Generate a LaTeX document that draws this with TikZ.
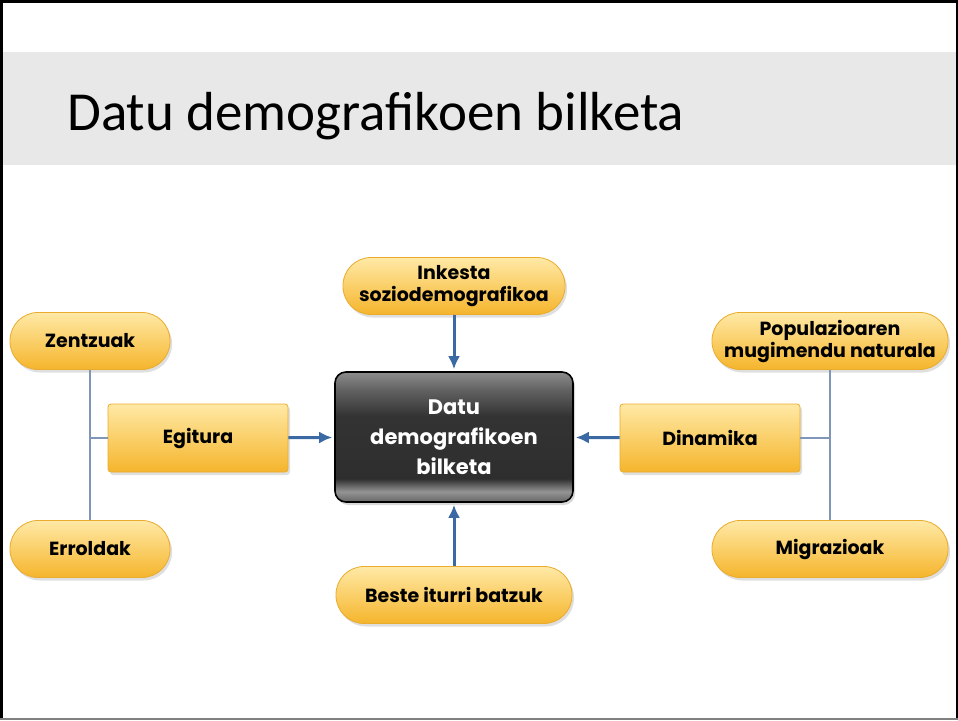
\documentclass[tikz,border=0pt]{standalone}
\usepackage{fontspec}
\setmainfont{Carlito}
\newfontfamily\boxfont{Poppins}
\usetikzlibrary{arrows.meta,shadows,positioning}
\definecolor{headgray}{HTML}{E8E8E8}
\definecolor{pilltop}{HTML}{FFE9A6}
\definecolor{pillbot}{HTML}{F5B52C}
\definecolor{pilledge}{HTML}{E9AC2E}
\definecolor{arrblue}{HTML}{3A69A3}
\definecolor{lineblue}{HTML}{8096B8}
\pgfdeclareverticalshading{glossdark}{100bp}{color(0bp)=(black!50); color(25bp)=(black!60); color(29bp)=(black!42); color(34bp)=(black!82); color(58bp)=(black!80); color(68bp)=(black!62); color(75bp)=(black!45); color(100bp)=(black!45)}
\tikzset{
  yellowfill/.style={top color=pilltop, bottom color=pillbot, draw=pilledge, line width=0.8pt,
    drop shadow={opacity=0.25, shadow xshift=2pt, shadow yshift=-3pt},
    font=\boxfont\bfseries\fontsize{19}{22}\selectfont, align=center, text=black, inner sep=2pt},
  pill/.style={yellowfill, rounded corners=28pt, minimum height=57pt},
  rectbox/.style={yellowfill, rounded corners=3pt, minimum width=180pt, minimum height=68pt},
  centerbox/.style={shading=glossdark, draw=black, line width=1.6pt, rounded corners=11pt,
    minimum width=238pt, minimum height=130pt, align=center, text=white,
    drop shadow={opacity=0.3, shadow xshift=2pt, shadow yshift=-3pt},
    font=\boxfont\bfseries\fontsize{21}{30}\selectfont},
  arr/.style={draw=arrblue, line width=3pt, -{Latex[length=13pt,width=12pt]}},
  thinline/.style={draw=lineblue, line width=1.1pt}
}
\begin{document}
\begin{tikzpicture}[x=1pt,y=-1pt]
\useasboundingbox (0,0) rectangle (958,720);
\fill[white] (0,0) rectangle (958,720);
\fill[headgray] (2,52) rectangle (956,165);
\draw[black, line width=3pt] (1.5,720) -- (1.5,1.5) -- (958,1.5);
\draw[black, line width=2pt] (956.5,0) -- (956.5,720);
\draw[gray, line width=2pt] (0,719) -- (958,719);
\node[anchor=base west, inner sep=0] (title) at (67,130) {\fontsize{55}{62}\selectfont Datu demografikoen bilketa};

\node[centerbox] (c) at (454,437) {Datu\\demografikoen\\bilketa};
\node[pill, minimum width=222pt] (ink) at (454,286) {Inkesta\\soziodemografikoa};
\node[pill, minimum width=236pt] (beste) at (454,595) {Beste iturri batzuk};

\node[pill, minimum width=160pt] (zen) at (90,341) {Zentzuak};
\node[rectbox] (eg) at (198,438) {Egitura};
\node[pill, minimum width=160pt] (err) at (90,549) {Erroldak};

\node[pill, minimum width=236pt] (pop) at (830,341) {Populazioaren\\mugimendu naturala};
\node[rectbox] (din) at (710,438) {Dinamika};
\node[pill, minimum width=236pt] (mig) at (830,549) {Migrazioak};

\draw[arr, shorten >=2pt] (ink) -- (c);
\draw[arr, shorten >=2pt] (beste) -- (c);
\draw[arr, shorten >=2pt] (eg) -- (c);
\draw[arr, shorten >=2pt] (din) -- (c);

\draw[thinline] (zen) -- (err);
\draw[thinline] (eg.west) -- (eg.west -| zen.south);
\draw[thinline] (pop) -- (mig);
\draw[thinline] (din.east) -- (din.east -| pop.south);
\end{tikzpicture}
\end{document}
